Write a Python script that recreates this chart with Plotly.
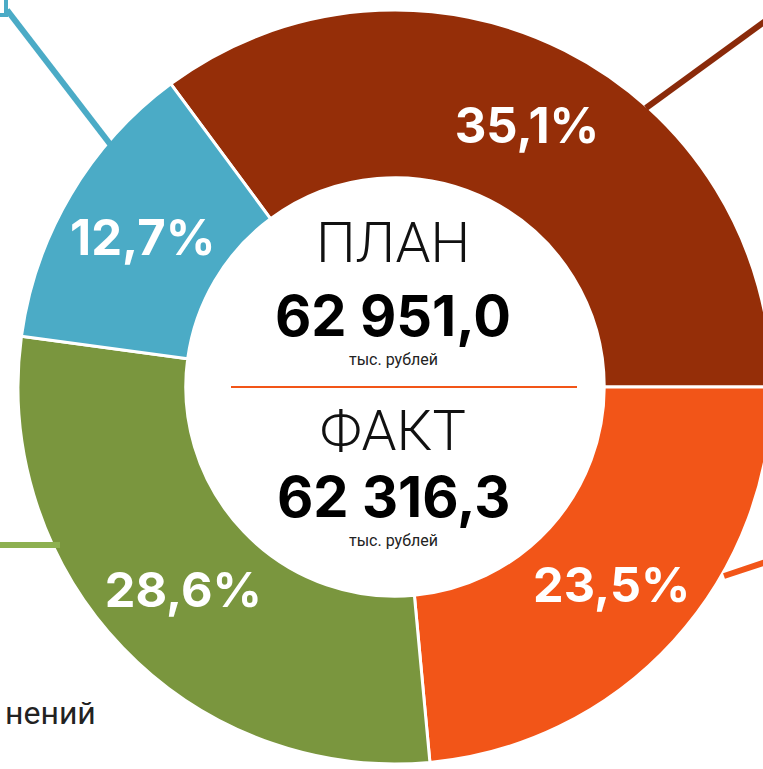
import plotly.graph_objects as go

# slice data (share of total, %), clockwise; the first slice ends at 3 o'clock
labels = ["Сегмент 1", "Сегмент 2", "Сегмент 3", "Сегмент 4"]
shares = [35.1, 23.5, 28.6, 12.7]
colors = ["#952E08", "#F25518", "#7A963E", "#4BABC6"]

plan_value = "62 951,0"
fact_value = "62 316,3"
unit_label = "тыс. рублей"

# the figure is larger than the window: the chart is cropped on the right/bottom
W, H = 800, 800
cx, cy, R = 395, 387, 377  # pie centre / radius in screen pixels


def px(x):
    return x / W


def py(y):
    return 1 - y / H


rotation = 90 - shares[0] / sum(shares) * 360

fig = go.Figure()

fig.add_trace(
    go.Pie(
        labels=labels,
        values=shares,
        hole=0.555,
        sort=False,
        direction="clockwise",
        rotation=rotation,
        marker=dict(colors=colors, line=dict(color="white", width=3)),
        texttemplate="%{value:.1f}%",
        textposition="inside",
        insidetextorientation="horizontal",
        insidetextfont=dict(family="Inter", size=49, color="white", weight=700),
        domain=dict(x=[px(cx - R), px(cx + R)], y=[py(cy + R), py(cy - R)]),
        showlegend=False,
        hoverinfo="label+percent",
    )
)

# leader lines towards the (cropped) outside labels
leaders = [
    ((7, 10), (110, 144), "#4BABC6"),
    ((646, 108), (775, 14), "#8A2A0A"),
    ((-5, 545), (60, 545), "#8DB050"),
    ((724, 576), (775, 559), "#F25518"),
]
for (x0, y0), (x1, y1), c in leaders:
    fig.add_shape(
        type="line", xref="paper", yref="paper",
        x0=px(x0), y0=py(y0), x1=px(x1), y1=py(y1),
        line=dict(color=c, width=6),
    )

# corner of the (cropped) label box at top-left
fig.add_shape(
    type="rect", xref="paper", yref="paper",
    x0=px(-30), x1=px(6), y0=py(-30), y1=py(15),
    line=dict(color="#4BABC6", width=4),
)

# separator line in the centre
fig.add_shape(
    type="line", xref="paper", yref="paper",
    x0=px(231), x1=px(577), y0=py(387), y1=py(387),
    line=dict(color="#F25518", width=2),
)

center_texts = [
    ("ПЛАН", 243, 56, 300, "#111111", "Roboto"),
    (plan_value, 316, 56, 700, "#000000", "Inter"),
    (unit_label, 359, 16, 400, "#222222", "Roboto"),
    ("ФАКТ", 431, 56, 300, "#111111", "Roboto"),
    (fact_value, 497, 56, 700, "#000000", "Inter"),
    (unit_label, 540, 16, 400, "#222222", "Roboto"),
]
for txt, y, size, weight, c, fam in center_texts:
    fig.add_annotation(
        text=txt, xref="paper", yref="paper", x=px(393), y=py(y),
        xanchor="center", yanchor="middle", showarrow=False,
        font=dict(family=fam, size=size, color=c, weight=weight),
    )

# cut-off outside label
fig.add_annotation(
    text="нений", xref="paper", yref="paper", x=px(98), y=py(713),
    xanchor="right", yanchor="middle", showarrow=False,
    font=dict(family="Roboto", size=32, color="#222222"),
)

fig.update_layout(
    width=W,
    height=H,
    margin=dict(l=0, r=0, t=0, b=0),
    paper_bgcolor="white",
    plot_bgcolor="white",
    separators=", ",
)

fig.write_html(
    "out.html",
    config={"displayModeBar": False},
    post_script="document.body.style.margin = '0'; document.body.style.overflow = 'hidden';",
)
